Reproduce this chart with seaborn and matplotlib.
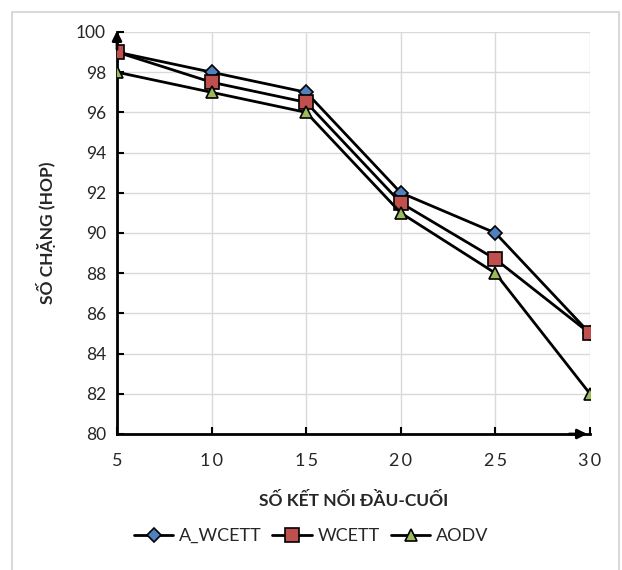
import matplotlib
matplotlib.use("Agg")
import matplotlib.pyplot as plt
import seaborn as sns
import pandas as pd
from matplotlib.patches import Rectangle

x_vals = [5, 10, 15, 20, 25, 30]
a_wcett = [99, 98, 97, 92, 90, 85]
wcett = [99, 97.5, 96.5, 91.5, 88.7, 85]
aodv = [98, 97, 96, 91, 88, 82]
series_names = ["A_WCETT", "WCETT", "AODV"]
y_ticks = [80, 82, 84, 86, 88, 90, 92, 94, 96, 98, 100]

df = pd.DataFrame({
    "x": x_vals * 3,
    "y": a_wcett + wcett + aodv,
    "series": [series_names[0]] * 6 + [series_names[1]] * 6 + [series_names[2]] * 6,
})

sns.set_theme(style="whitegrid")
plt.rcParams["font.family"] = ["Lato", "DejaVu Sans"]

fig = plt.figure(figsize=(6.22, 5.7), dpi=100)
ax = fig.add_axes([117/622, 1 - 434/570, (590-117)/622, (434-32)/570])

# outer frame
fig.patches.append(Rectangle((12/622, -0.05), 607/622, 1 - 12/570 + 0.05, transform=fig.transFigure,
                             fill=False, edgecolor="#d9d9d9", linewidth=1.5))

palette = {"A_WCETT": "#4F81BD", "WCETT": "#C0504D", "AODV": "#9BBB59"}
markers = {"A_WCETT": "D", "WCETT": "s", "AODV": "^"}
sizes = {"A_WCETT": 7, "WCETT": 10, "AODV": 9}

for name in series_names:
    sub = df[df["series"] == name]
    sns.lineplot(data=sub, x="x", y="y", ax=ax, color="black", linewidth=2,
                 marker=markers[name], markersize=sizes[name],
                 markerfacecolor=palette[name], markeredgecolor="black",
                 markeredgewidth=1.2, label=name, legend=False, zorder=3)

ax.set_xlim(5, 30)
ax.set_ylim(80, 100)
ax.set_xticks(x_vals)
ax.set_xticklabels(["\u2009".join(str(v)) for v in x_vals], fontsize=13)
ax.set_yticks(y_ticks)
ax.set_yticklabels([str(v) for v in y_ticks], fontsize=12.5)
ax.grid(True, color="#d9d9d9", linewidth=1)
for s in ["top", "right"]:
    ax.spines[s].set_visible(False)
for s in ["left", "bottom"]:
    ax.spines[s].set_color("black")
    ax.spines[s].set_linewidth(2)
ax.tick_params(axis="both", direction="in", length=5, width=1.5, color="black",
               left=True, bottom=True, pad=8)
ax.tick_params(axis="x", pad=14)
ax.set_facecolor("white")

# arrows
ax.annotate("", xy=(0, 1.01), xytext=(0, 0.95), xycoords="axes fraction",
            arrowprops=dict(arrowstyle="-|>", color="black", lw=2, mutation_scale=14), zorder=5)
ax.annotate("", xy=(1.0, 0), xytext=(0.95, 0), xycoords="axes fraction",
            arrowprops=dict(arrowstyle="-|>", color="black", lw=2, mutation_scale=14), zorder=5)
for sp in ax.spines.values():
    sp.set_clip_on(False)

ax.set_xlabel("SỐ KẾT NỐI ĐẦU-CUỐI", fontsize=12.5, fontweight="bold", labelpad=16)
ax.set_ylabel("SỐ CHẶNG (HOP)", fontsize=12.5, fontweight="bold", labelpad=14)

handles, labels = ax.get_legend_handles_labels()
fig.legend(handles, labels, loc="center", bbox_to_anchor=(0.5, 1 - 536/570), ncol=3,
           frameon=False, fontsize=13, handlelength=2.2, columnspacing=0.6, handletextpad=0.3)

fig.savefig("out.png", dpi=100, facecolor="white")
